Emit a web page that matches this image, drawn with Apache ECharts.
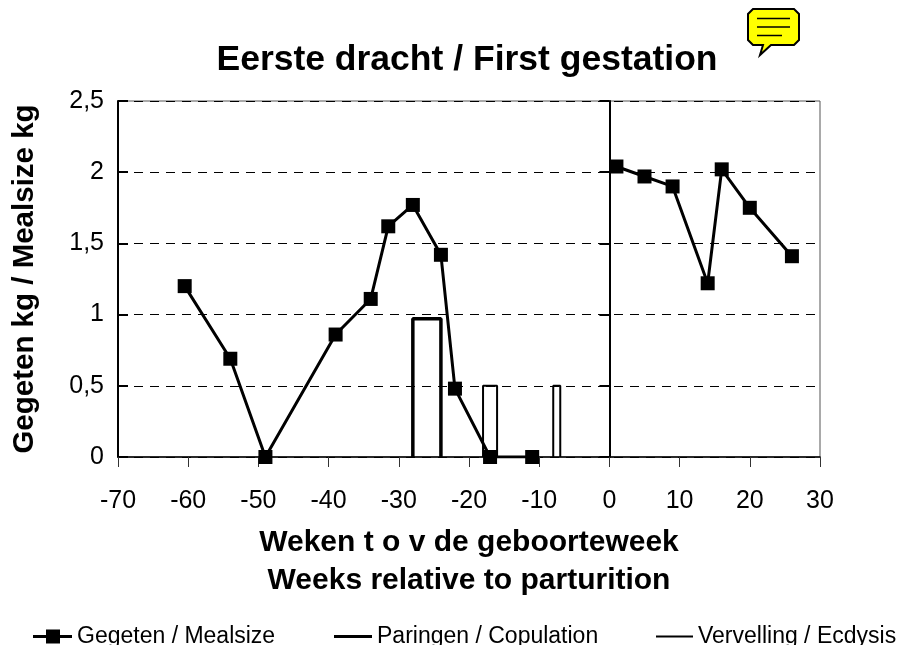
<!DOCTYPE html>
<html><head><meta charset="utf-8"><style>html,body{margin:0;padding:0;background:#fff}#c{width:900px;height:645px}</style>
<script src="https://cdn.jsdelivr.net/npm/echarts@6/dist/echarts.min.js"></script></head><body><div id="c"></div>
<script>
var mealsize=[[-60.5,1.2],[-54,0.69],[-49,0],[-39,0.86],[-34,1.11],[-31.5,1.62],[-28,1.77],[-24,1.42],[-22,0.48],[-17,0],[-11,0],[null,null],[1,2.04],[5,1.97],[9,1.9],[14,1.22],[16,2.02],[20,1.75],[26,1.41]];
var copulation=[[-28,0],[-28,0.97],[-24,0.97],[-24,0]];
var ecdysis=[[-18,0],[-18,0.5],[-16,0.5],[-16,0],[null,null],[-8,0],[-8,0.5],[-7,0.5],[-7,0]];
var names=["Gegeten / Mealsize","Paringen / Copulation","Vervelling / Ecdysis"];
var titleText="Eerste dracht / First gestation";
var xTitle="Weken t o v de geboorteweek\nWeeks relative to parturition";
var yTitle="Gegeten kg / Mealsize kg";
var F="Liberation Sans";
var chart=echarts.init(document.getElementById('c'),null,{renderer:'canvas'});
var ICON_MEAL='path://M0,5.5H13V0H27V5.5H39V8.5H27V14H13V8.5H0Z';
var ICON_THICK='path://M0,0H0M0,5.5H38V8.5H0ZM0,14H0';
var ICON_THIN='path://M0,0H0M0,6H37V8H0ZM0,14H0';
function lg(name,left,icon,w){return {data:[{name:name,icon:icon}],left:left,top:625,itemWidth:w,itemHeight:14,padding:0,
 itemStyle:{color:'#000'},
 textStyle:{fontFamily:F,fontSize:23,color:'#000',padding:[2,0,0,0]}};}
var ya={min:0,max:2.5,interval:0.5};
chart.setOption({
 animation:false,backgroundColor:'#fff',
 title:{text:titleText,left:467,top:42,textAlign:'center',textStyle:{fontFamily:F,fontSize:35.5,fontWeight:'bold',color:'#000'},padding:0},
 legend:[lg(names[0],33,ICON_MEAL,39),lg(names[1],334,ICON_THICK,38),lg(names[2],656,ICON_THIN,37)],
 grid:{left:118,top:101,width:702,height:356,show:true,borderColor:'#555',borderWidth:1,backgroundColor:'transparent',outerBoundsMode:'none',containLabel:false},
 xAxis:{type:'value',min:-70,max:30,interval:10,name:xTitle,nameLocation:'middle',nameGap:67,
  nameTextStyle:{fontFamily:F,fontSize:30,fontWeight:'bold',color:'#000',lineHeight:38},
  axisLine:{onZero:false,lineStyle:{color:'#000',width:1.5}},axisTick:{show:true,length:10,lineStyle:{color:'#333'}},
  axisLabel:{fontFamily:F,fontSize:25,color:'#000',margin:32},splitLine:{show:false}},
 yAxis:[
  Object.assign({type:'value',position:'left',name:yTitle,nameLocation:'middle',nameGap:78,
   nameTextStyle:{fontFamily:F,fontSize:29.5,fontWeight:'bold',color:'#000'},
   axisLine:{show:true,onZero:false,lineStyle:{color:'#000'}},axisTick:{show:false},
   axisLabel:{fontFamily:F,fontSize:25,color:'#000',margin:14,formatter:function(v){return String(v).replace('.',',');}},
   splitLine:{show:true,lineStyle:{color:'#000',type:[9,7],width:1}}},ya),
  Object.assign({type:'value',position:'left',
   axisLine:{show:true,onZero:true,lineStyle:{color:'#000',width:2}},axisTick:{show:true,inside:false,length:10,lineStyle:{color:'#000',width:2}},
   axisLabel:{show:false},splitLine:{show:false}},ya),
  Object.assign({type:'value',position:'left',
   axisLine:{show:true,onZero:true,lineStyle:{color:'#000',width:2}},axisTick:{show:true,inside:true,length:10,lineStyle:{color:'#000',width:2}},
   axisLabel:{show:false},splitLine:{show:false}},ya)
 ],
 series:[
  {name:names[2],type:'line',data:ecdysis,symbol:'none',connectNulls:false,lineStyle:{color:'#000',width:2},itemStyle:{color:'#000'}},
  {name:names[1],type:'line',data:copulation,symbol:'none',lineStyle:{color:'#000',width:3.5},itemStyle:{color:'#000'}},
  {name:names[0],type:'line',data:mealsize,symbol:'rect',symbolSize:14,connectNulls:false,lineStyle:{color:'#000',width:3},itemStyle:{color:'#000'},z:5}
 ],
 graphic:[{type:'group',silent:true,children:[
  {type:'polygon',shape:{points:[[753,9],[794,9],[799,14],[799,40],[794,45],[771,45],[760,55],[763,45],[753,45],[748,40],[748,14]]},style:{fill:'#ffff00',stroke:'#000',lineWidth:2}},
  {type:'line',shape:{x1:757,y1:18.5,x2:790,y2:18.5},style:{stroke:'#000',lineWidth:1.5}},
  {type:'line',shape:{x1:757,y1:27,x2:790,y2:27},style:{stroke:'#000',lineWidth:1.5}},
  {type:'line',shape:{x1:757,y1:35.5,x2:782,y2:35.5},style:{stroke:'#000',lineWidth:1.5}}
 ]}]
});
</script></body></html>
